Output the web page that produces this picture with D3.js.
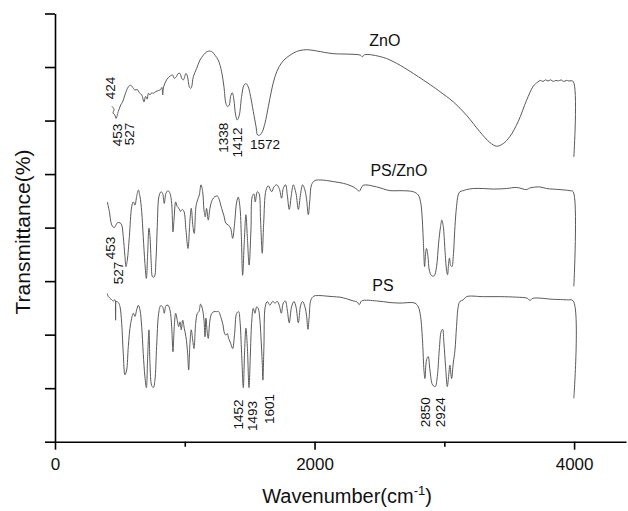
<!DOCTYPE html>
<html>
<head>
<meta charset="utf-8">
<script src="https://cdnjs.cloudflare.com/ajax/libs/d3/7.8.5/d3.min.js"></script>
<style>
  body { margin: 0; background: #fff; }
  text { font-family: "Liberation Sans", Arial, sans-serif; }
</style>
</head>
<body>
<div id="chart"></div>
<script>
// FTIR spectra, [wavenumber, transmittance (arb. units)]
var znoSpectrum = [
  [437,6.27],[455,6.21],[447,6.14],[462,6.10],[470,6.04],[488,6.17],[506,6.29],[521,6.35],[539,6.48],[565,6.63],
  [583,6.66],[604,6.60],[616,6.57],[634,6.58],[650,6.52],[668,6.48],[686,6.35],[698,6.45],[711,6.40],[719,6.51],
  [732,6.48],[745,6.52],[758,6.51],[776,6.54],[796,6.56],[814,6.58],[824,6.62],[830,6.48],[837,6.63],[860,6.76],
  [886,6.83],[907,6.85],[917,6.79],[932,6.81],[950,6.88],[963,6.88],[976,6.79],[989,6.76],[1009,6.88],[1020,6.83],
  [1035,6.63],[1045,6.60],[1053,6.63],[1066,6.82],[1091,6.97],[1117,7.13],[1143,7.22],[1174,7.29],[1207,7.29],
  [1233,7.22],[1258,7.13],[1284,6.91],[1302,6.63],[1317,6.32],[1330,6.26],[1343,6.29],[1353,6.45],[1366,6.52],
  [1379,6.38],[1392,6.10],[1405,6.01],[1420,6.10],[1438,6.45],[1456,6.66],[1472,6.69],[1489,6.63],[1507,6.45],
  [1528,6.17],[1549,5.89],[1561,5.73],[1579,5.73],[1597,5.79],[1618,5.95],[1644,6.26],[1669,6.57],[1695,6.82],
  [1728,7.01],[1764,7.13],[1810,7.22],[1862,7.29],[1913,7.32],[1964,7.32],[2016,7.30],[2144,7.25],[2273,7.24],
  [2355,7.22],[2368,7.19],[2385,7.23],[2529,7.18],[2632,7.07],[2761,6.88],[2915,6.63],[2966,6.54],[3069,6.35],
  [3171,6.10],[3274,5.79],[3351,5.59],[3403,5.52],[3454,5.57],[3505,5.70],[3569,5.98],[3634,6.38],[3685,6.64],
  [3720,6.72],[3740,6.75],[3760,6.73],[3780,6.76],[3800,6.74],[3820,6.76],[3840,6.73],[3860,6.75],[3880,6.74],
  [3900,6.76],[3920,6.73],[3940,6.75],[3960,6.74],[3993,6.73],[3998,5.32]
];

var psZnoSpectrum = [
  [403,4.48],[419,4.30],[437,4.05],[455,4.00],[470,4.05],[480,4.09],[501,4.09],[514,4.05],[526,3.83],[539,3.46],
  [547,3.27],[557,3.39],[573,3.83],[591,4.39],[603,4.48],[616,4.42],[629,4.58],[642,4.70],[655,4.58],[668,4.30],
  [680,3.83],[693,3.33],[704,3.05],[714,3.52],[724,3.99],[732,3.83],[742,3.33],[752,3.08],[765,3.08],[778,3.40],
  [788,4.02],[801,4.58],[817,4.67],[829,4.64],[842,4.45],[855,4.64],[871,4.69],[886,4.64],[899,4.45],[909,3.92],
  [917,4.14],[930,4.48],[942,4.39],[955,4.36],[968,4.30],[981,4.34],[994,4.30],[1009,3.96],[1025,3.61],[1040,4.14],
  [1050,4.36],[1063,4.02],[1073,3.89],[1086,4.39],[1099,4.52],[1112,4.61],[1125,4.80],[1138,4.67],[1148,4.33],
  [1158,4.20],[1168,4.36],[1181,4.14],[1194,4.36],[1212,4.52],[1233,4.58],[1251,4.59],[1266,4.52],[1284,4.36],
  [1302,4.22],[1317,4.08],[1335,4.05],[1353,3.99],[1369,3.80],[1384,4.08],[1400,4.48],[1412,4.57],[1425,4.39],
  [1436,3.83],[1446,3.11],[1458,3.70],[1471,4.24],[1482,3.83],[1496,3.30],[1510,3.96],[1520,4.58],[1533,4.63],
  [1543,4.48],[1559,4.67],[1572,4.64],[1584,4.14],[1597,3.52],[1608,4.08],[1626,4.70],[1644,4.78],[1669,4.67],
  [1687,4.76],[1708,4.80],[1728,4.73],[1746,4.55],[1759,4.73],[1777,4.80],[1790,4.61],[1805,4.34],[1823,4.64],
  [1836,4.80],[1857,4.64],[1875,4.34],[1893,4.64],[1908,4.80],[1926,4.70],[1939,4.52],[1952,4.24],[1964,4.52],
  [1977,4.80],[2003,4.88],[2042,4.89],[2093,4.88],[2144,4.86],[2196,4.84],[2247,4.81],[2298,4.76],[2329,4.71],
  [2345,4.68],[2375,4.79],[2478,4.76],[2581,4.69],[2658,4.69],[2761,4.67],[2799,4.61],[2817,4.48],[2827,4.27],
  [2838,3.77],[2848,3.27],[2856,3.52],[2863,3.61],[2874,3.46],[2884,3.21],[2902,3.10],[2922,3.10],[2940,3.27],
  [2956,3.71],[2971,4.02],[2981,4.14],[2992,4.02],[3005,3.58],[3017,3.21],[3025,3.12],[3033,3.33],[3040,3.43],
  [3048,3.30],[3059,3.27],[3069,3.46],[3082,4.02],[3094,4.39],[3107,4.61],[3120,4.67],[3146,4.69],[3171,4.71],
  [3223,4.73],[3300,4.73],[3377,4.72],[3480,4.73],[3557,4.75],[3634,4.71],[3659,4.74],[3736,4.76],[3788,4.73],
  [3891,4.71],[3968,4.69],[3993,4.67],[3998,2.90]
];

var psSpectrum = [
  [403,2.77],[411,2.71],[424,2.68],[449,2.63],[462,2.65],[467,2.27],[472,2.62],[488,2.60],[501,2.52],[514,2.21],
  [526,1.65],[539,1.25],[552,1.34],[565,1.78],[583,2.21],[604,2.40],[616,2.34],[629,2.46],[642,2.55],[655,2.46],
  [668,2.15],[680,1.65],[693,1.21],[704,1.01],[714,1.59],[724,2.09],[732,1.46],[745,1.05],[758,1.01],[770,1.15],
  [783,1.78],[799,2.40],[814,2.54],[829,2.52],[842,2.40],[855,2.54],[871,2.55],[886,2.46],[899,2.15],[909,1.68],
  [919,2.15],[930,2.40],[942,2.27],[953,2.15],[963,2.24],[973,2.09],[984,2.27],[996,2.12],[1009,1.96],[1022,1.65],
  [1030,1.34],[1040,1.84],[1050,2.09],[1061,1.90],[1071,1.74],[1084,2.21],[1097,2.40],[1109,2.43],[1122,2.57],
  [1135,2.49],[1148,2.27],[1156,1.96],[1163,2.31],[1174,2.02],[1181,1.93],[1194,2.27],[1209,2.40],[1225,2.43],
  [1245,2.43],[1261,2.43],[1276,2.34],[1292,2.21],[1307,2.02],[1317,1.99],[1328,2.02],[1338,1.93],[1353,1.84],
  [1369,1.74],[1384,2.02],[1400,2.40],[1415,2.43],[1425,2.27],[1438,1.65],[1451,1.01],[1461,1.70],[1471,2.12],
  [1482,1.78],[1495,1.01],[1505,1.60],[1515,2.21],[1528,2.49],[1541,2.40],[1554,2.52],[1566,2.49],[1579,2.27],
  [1587,1.96],[1597,1.47],[1602,1.15],[1610,1.78],[1620,2.52],[1636,2.62],[1656,2.55],[1677,2.62],[1695,2.59],
  [1713,2.62],[1728,2.55],[1744,2.40],[1759,2.59],[1775,2.63],[1790,2.46],[1805,2.22],[1823,2.52],[1841,2.62],
  [1857,2.52],[1875,2.22],[1893,2.55],[1908,2.62],[1926,2.52],[1939,2.34],[1949,2.10],[1959,2.34],[1972,2.65],
  [1995,2.72],[2042,2.73],[2093,2.72],[2144,2.71],[2196,2.70],[2247,2.67],[2298,2.63],[2329,2.61],[2345,2.56],
  [2363,2.63],[2478,2.63],[2581,2.60],[2658,2.59],[2773,2.59],[2799,2.52],[2817,2.34],[2833,1.84],[2843,1.34],
  [2851,1.18],[2863,1.53],[2876,1.59],[2889,1.34],[2910,1.06],[2930,1.03],[2946,1.22],[2961,1.71],[2976,2.06],
  [2987,2.10],[2997,1.84],[3010,1.40],[3023,1.03],[3033,1.22],[3043,1.43],[3056,1.18],[3069,1.47],[3082,1.71],
  [3094,2.15],[3107,2.52],[3120,2.62],[3146,2.65],[3171,2.71],[3300,2.71],[3428,2.71],[3557,2.70],[3640,2.68],
  [3659,2.64],[3685,2.68],[3839,2.66],[3942,2.65],[3993,2.63],[3998,0.81]
];

// series names and where they sit
var seriesLabels = [
  {text: "ZnO", x: 2542, y: 7.39},
  {text: "PS/ZnO", x: 2650, y: 4.96},
  {text: "PS", x: 2527, y: 2.82}
];

// peak labels (centre of each label)
var peakLabels = [
  {text: "424", x: 424, y: 6.61, rot: true},
  {text: "453", x: 478, y: 5.73, rot: true},
  {text: "527", x: 570, y: 5.75, rot: true},
  {text: "1338", x: 1298, y: 5.68, rot: true},
  {text: "1412", x: 1406, y: 5.59, rot: true},
  {text: "1572", x: 1618, y: 5.56, rot: false},
  {text: "453", x: 424, y: 3.62, rot: true},
  {text: "527", x: 485, y: 3.15, rot: true},
  {text: "1452", x: 1414, y: 0.51, rot: true},
  {text: "1493", x: 1522, y: 0.48, rot: true},
  {text: "1601", x: 1653, y: 0.61, rot: true},
  {text: "2850", x: 2850, y: 0.55, rot: true},
  {text: "2924", x: 2966, y: 0.55, rot: true}
];

var xMajorTicks = [0, 2000, 4000];
var xMinorTicks = [1000, 3000];
var yTicks = [0, 1, 2, 3, 4, 5, 6, 7, 8];

var W = 628, H = 511;
var mLeft = 55, mRight = 626, mTop = 13.5, mBottom = 441.7;

var svg = d3.select("#chart").append("svg")
  .attr("width", W)
  .attr("height", H);

svg.append("rect").attr("width", W).attr("height", H).attr("fill", "#fff");

var x = d3.scaleLinear().domain([0, 4400]).range([mLeft, mRight]);
var y = d3.scaleLinear().domain([0, 8]).range([mBottom, mTop]);

var line = d3.line()
  .x(function(d) { return x(d[0]); })
  .y(function(d) { return y(d[1]); })
  .curve(d3.curveCatmullRom.alpha(0.5));

[znoSpectrum, psZnoSpectrum, psSpectrum].forEach(function(s) {
  svg.append("path")
    .datum(s)
    .attr("d", line)
    .attr("fill", "none")
    .attr("stroke", "#5a5a5a")
    .attr("stroke-width", 1);
});

// axes
var xAxis = svg.append("g")
  .attr("transform", "translate(0," + mBottom + ")")
  .call(d3.axisBottom(x).tickValues(xMajorTicks).tickSize(8).tickSizeOuter(0)
    .tickPadding(8).tickFormat(d3.format("d")));
xAxis.selectAll("text").attr("font-size", 17).attr("fill", "#111");

var xMinor = svg.append("g")
  .attr("transform", "translate(0," + mBottom + ")")
  .call(d3.axisBottom(x).tickValues(xMinorTicks).tickSize(5).tickFormat(""));
xMinor.select(".domain").remove();

var yAxis = svg.append("g")
  .attr("transform", "translate(" + mLeft + ",0)")
  .call(d3.axisLeft(y).tickValues(yTicks).tickSize(10).tickSizeOuter(0).tickFormat(""));

svg.selectAll(".domain, .tick line")
  .attr("stroke", "#000")
  .attr("stroke-width", 1.6);

// series names
svg.append("g").selectAll("text")
  .data(seriesLabels)
  .enter().append("text")
  .attr("x", function(d) { return x(d.x); })
  .attr("y", function(d) { return y(d.y); })
  .attr("text-anchor", "middle")
  .attr("font-size", 16)
  .attr("fill", "#111")
  .text(function(d) { return d.text; });

// peak labels
svg.append("g").selectAll("text")
  .data(peakLabels)
  .enter().append("text")
  .attr("transform", function(d) {
    return "translate(" + x(d.x) + "," + y(d.y) + ")" + (d.rot ? " rotate(-90)" : "");
  })
  .attr("text-anchor", "middle")
  .attr("dy", "0.36em")
  .attr("font-size", 13.5)
  .attr("fill", "#111")
  .text(function(d) { return d.text; });

// axis titles
var xt = svg.append("text")
  .attr("x", 347)
  .attr("y", 503)
  .attr("text-anchor", "middle")
  .attr("font-size", 20)
  .attr("fill", "#111");
xt.append("tspan").text("Wavenumber(cm");
xt.append("tspan").attr("dy", -8).attr("font-size", 13).text("-1");
xt.append("tspan").attr("dy", 8).text(")");

svg.append("text")
  .attr("transform", "translate(30,232) rotate(-90)")
  .attr("text-anchor", "middle")
  .attr("font-size", 21)
  .attr("fill", "#111")
  .text("Transmittance(%)");
</script>
</body>
</html>
